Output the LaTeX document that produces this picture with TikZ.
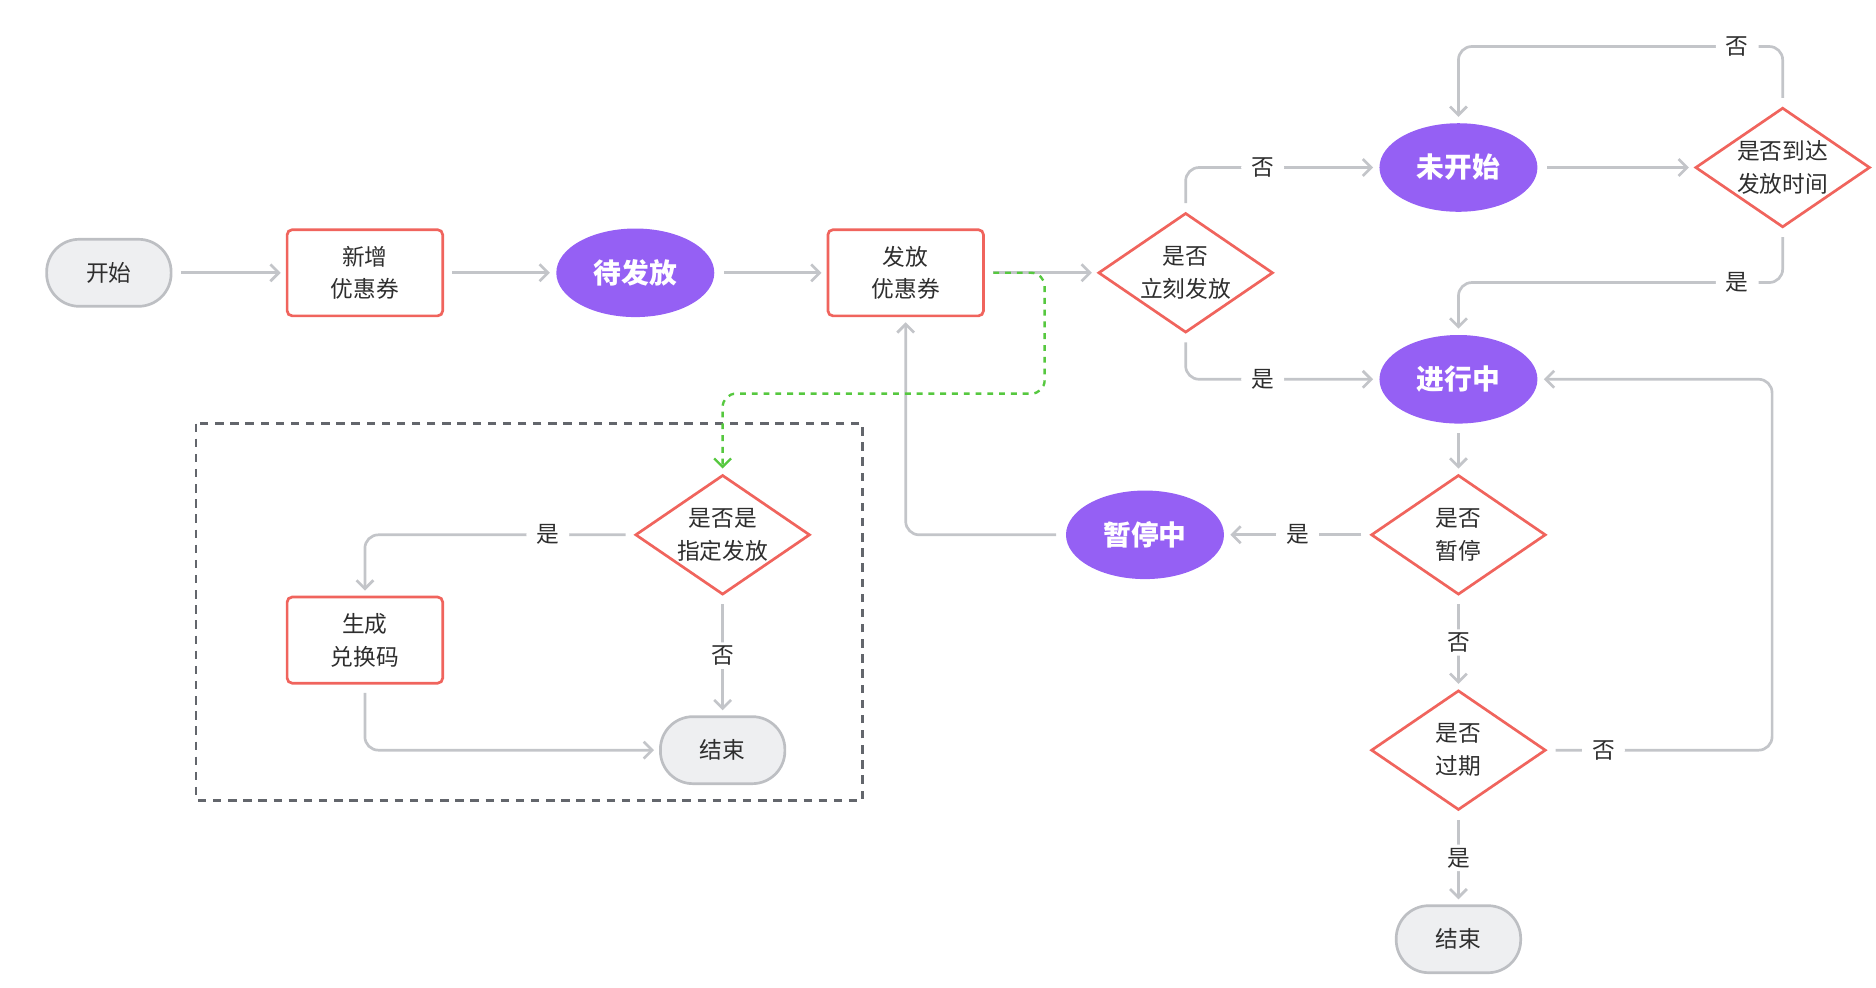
\documentclass[tikz,border=0pt]{standalone}
\usepackage{fontspec}
\setmainfont{Noto Sans CJK SC}
\usepackage{tikz}
\usetikzlibrary{arrows.meta,positioning}
\usetikzlibrary{shapes.geometric}
\definecolor{linegray}{HTML}{C3C5C9}
\definecolor{boxred}{HTML}{F0645D}
\definecolor{statepurple}{HTML}{9560F4}
\definecolor{termgray}{HTML}{EEEFF1}
\definecolor{termline}{HTML}{BDBFC3}
\definecolor{textdark}{HTML}{2E2E2E}
\definecolor{flowgreen}{HTML}{56C83F}
\definecolor{framegray}{HTML}{63666C}

\begin{document}
\begin{tikzpicture}[x=0.025cm, y=-0.025cm, line width=1.6pt]
\useasboundingbox (0,0) rectangle (1568,825);
\tikzstyle{every node}=[text=textdark, font=\fontsize{13.5pt}{19.5pt}\selectfont, align=center]
\tikzstyle{term}=[draw=termline, fill=termgray, rounded corners=0.68cm, minimum width=2.6cm, minimum height=1.4cm]
\tikzstyle{task}=[draw=boxred, fill=white, rounded corners=3pt, minimum width=3.25cm, minimum height=1.8cm]
\tikzstyle{state}=[ellipse, fill=statepurple, text=white, font=\fontsize{16.5pt}{20pt}\selectfont\bfseries, minimum width=3.3cm, minimum height=1.85cm]
\tikzstyle{check}=[diamond, draw=boxred, fill=white, inner sep=0pt, shape aspect=1.46, minimum width=3.65cm, minimum height=2.5cm]
\tikzstyle{flow}=[draw=linegray, rounded corners=8pt, shorten <=5pt, shorten >=3pt, -{Straight Barb[length=5pt,width=10pt]}]
\tikzstyle{lbl}=[fill=white, inner xsep=6pt, inner ysep=2pt]
\tikzstyle{frame}=[draw=framegray, line width=1.5pt, dash pattern=on 5pt off 4pt]
% main line
\node[term] (start) at (91,228) {开始}; %%
\node[task] (add) at (305,228) {新增\\优惠券}; %%
\node[state] (wait) at (531,228) {待发放}; %%
\node[task] (issue) at (757,228) {发放\\优惠券}; %%
\node[check] (now) at (991,228) {是否\\立刻发放}; %%
\node[state] (notyet) at (1219,140) {未开始}; %%
\node[check] (reach) at (1490,140) {是否到达\\发放时间}; %%
\node[state] (running) at (1219,317) {进行中}; %%
\node[check] (pause) at (1219,447) {是否\\暂停}; %%
\node[state] (paused) at (957,447) {暂停中}; %%
\node[check] (expire) at (1219,627) {是否\\过期}; %%
\node[term] (end) at (1219,785) {结束}; %%
% assigned issue
\node[check] (assign) at (604,447) {是否是\\指定发放}; %%
\node[task] (code) at (305,535) {生成\\兑换码}; %%
\node[term] (stop) at (604,627) {结束};
\draw[frame] (164,354) rectangle (721,669);
\draw[flow] (start) -- (add); %%
\draw[flow] (add) -- (wait); %%
\draw[flow] (wait) -- (issue); %%
\draw[flow] (issue) -- (now); %%
\draw[flow] (now.north) |- node[lbl,pos=0.7]{否} (notyet); %%
\draw[flow] (now.south) |- node[lbl,pos=0.7]{是} (running); %%
\draw[flow] (notyet) -- (reach); %%
\draw[flow] (reach.north) -- ++(0,-50) -| node[lbl,pos=0.07]{否} (notyet.north); %%
\draw[flow] (reach.south) -- ++(0,45) -| node[lbl,pos=0.07]{是} (running.north); %%
\draw[flow] (running) -- (pause); %%
\draw[flow] (pause) -- node[lbl]{是} (paused); %%
\draw[flow] (paused) -| (issue); %%
\draw[flow] (pause) -- node[lbl]{否} (expire); %%
\draw[flow] (expire.east) -- node[lbl,pos=0.25]{否} ++(188,0) |- (running); %%
\draw[flow] (expire) -- node[lbl]{是} (end); %%
\draw[flow, draw=flowgreen, line width=1.4pt, dash pattern=on 3.5pt off 3.5pt] (issue.east) -- ++(50,0) -- ++(0,101) -| (assign.north); %%
\draw[flow] (assign) -| node[lbl,pos=0.16]{是} (code); %%
\draw[flow] (assign) -- node[lbl]{否} (stop); %%
\draw[flow] (code) |- (stop); %%
\end{tikzpicture}
\end{document}
